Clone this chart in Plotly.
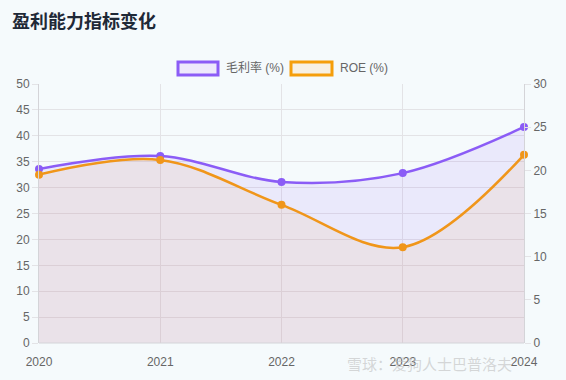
import plotly.graph_objects as go

years = ["2020", "2021", "2022", "2023", "2024"]
gross_margin = [33.6, 36.1, 31.1, 32.8, 41.7]
roe = [19.5, 21.2, 16.0, 11.1, 21.8]
left_ticks = [0, 5, 10, 15, 20, 25, 30, 35, 40, 45, 50]
right_ticks = [0, 5, 10, 15, 20, 25, 30]

PURPLE = "#8b5cf6"
ORANGE = "#f0961a"
FONT = "Liberation Sans, Noto Sans CJK SC, sans-serif"
BG = "#f5fafc"

W, H = 566, 380
L, R, T, B = 39, 524, 84, 343


def px(x):
    return (x - L) / (R - L)


def py(y):
    return (B - y) / (B - T)


fig = go.Figure()
fig.add_trace(go.Scatter(
    x=years, y=gross_margin, name="毛利率 (%)", mode="lines+markers",
    line=dict(color=PURPLE, width=2.5, shape="spline", smoothing=1.0),
    marker=dict(color=PURPLE, size=8),
    fill="tozeroy", fillcolor="rgba(139,92,246,0.10)", yaxis="y",
    showlegend=False, cliponaxis=False,
))
fig.add_trace(go.Scatter(
    x=years, y=roe, name="ROE (%)", mode="lines+markers",
    line=dict(color=ORANGE, width=2.5, shape="spline", smoothing=1.0),
    marker=dict(color=ORANGE, size=8),
    fill="tozeroy", fillcolor="rgba(240,150,26,0.08)", yaxis="y2",
    showlegend=False, cliponaxis=False,
))

fig.update_layout(
    width=W, height=H,
    margin=dict(l=L, r=W - R, t=T, b=H - B),
    paper_bgcolor=BG, plot_bgcolor="rgba(0,0,0,0)",
    font=dict(family=FONT, size=12, color="#666666"),
    title=dict(text="<b>盈利能力指标变化</b>", x=12 / W, xanchor="left",
               y=1 - 22 / H, yanchor="middle",
               font=dict(size=18, color="#1f2937",
                         family="Noto Sans CJK SC, sans-serif")),
    xaxis=dict(type="category", range=[0, 4], showgrid=True,
               gridcolor="#e3e3e6", gridwidth=1, zeroline=False,
               showline=False, ticks="outside", ticklen=8,
               tickcolor="rgba(0,0,0,0)", tickfont=dict(size=12, color="#666")),
    yaxis=dict(range=[0, 50], tickvals=left_ticks, showgrid=True,
               gridcolor="#e3e3e6", zeroline=False, showline=True,
               linecolor="#d4d4d8", ticks="outside", ticklen=6,
               tickcolor="#e3e3e6", tickfont=dict(size=12, color="#666")),
    yaxis2=dict(range=[0, 30], tickvals=right_ticks, overlaying="y",
                side="right", showgrid=False, zeroline=False, showline=True,
                linecolor="#d4d4d8", ticks="outside", ticklen=6,
                tickcolor="#e3e3e6", tickfont=dict(size=12, color="#666")),
    shapes=[
        dict(type="line", xref="paper", yref="paper", x0=0, x1=1, y0=0, y1=0,
             line=dict(color="#d4d4d8", width=1)),
        dict(type="rect", xref="paper", yref="paper",
             x0=px(178), x1=px(218), y0=py(75), y1=py(62),
             fillcolor="#ede9fb", line=dict(color=PURPLE, width=3)),
        dict(type="rect", xref="paper", yref="paper",
             x0=px(291), x1=px(332), y0=py(75), y1=py(62),
             fillcolor="#f7f0e3", line=dict(color="#f59e0b", width=3)),
    ],
    annotations=[
        dict(text="毛利率 (%)", xref="paper", yref="paper", x=px(224), y=py(68),
             xanchor="left", yanchor="middle", showarrow=False,
             font=dict(size=12, color="#666")),
        dict(text="ROE (%)", xref="paper", yref="paper", x=px(338), y=py(68),
             xanchor="left", yanchor="middle", showarrow=False,
             font=dict(size=12, color="#666")),
        dict(text="雪球：爱狗人士巴普洛夫", xref="paper", yref="paper",
             x=px(345), y=py(363), xanchor="left", yanchor="middle",
             showarrow=False,
             font=dict(size=15, color="rgba(190,190,190,0.6)",
                       family="Noto Sans CJK SC, sans-serif")),
    ],
)

fig.write_html(
    "out.html",
    config={"displayModeBar": False},
    post_script="document.body.style.margin='0';document.body.style.background='" + BG + "';",
)
